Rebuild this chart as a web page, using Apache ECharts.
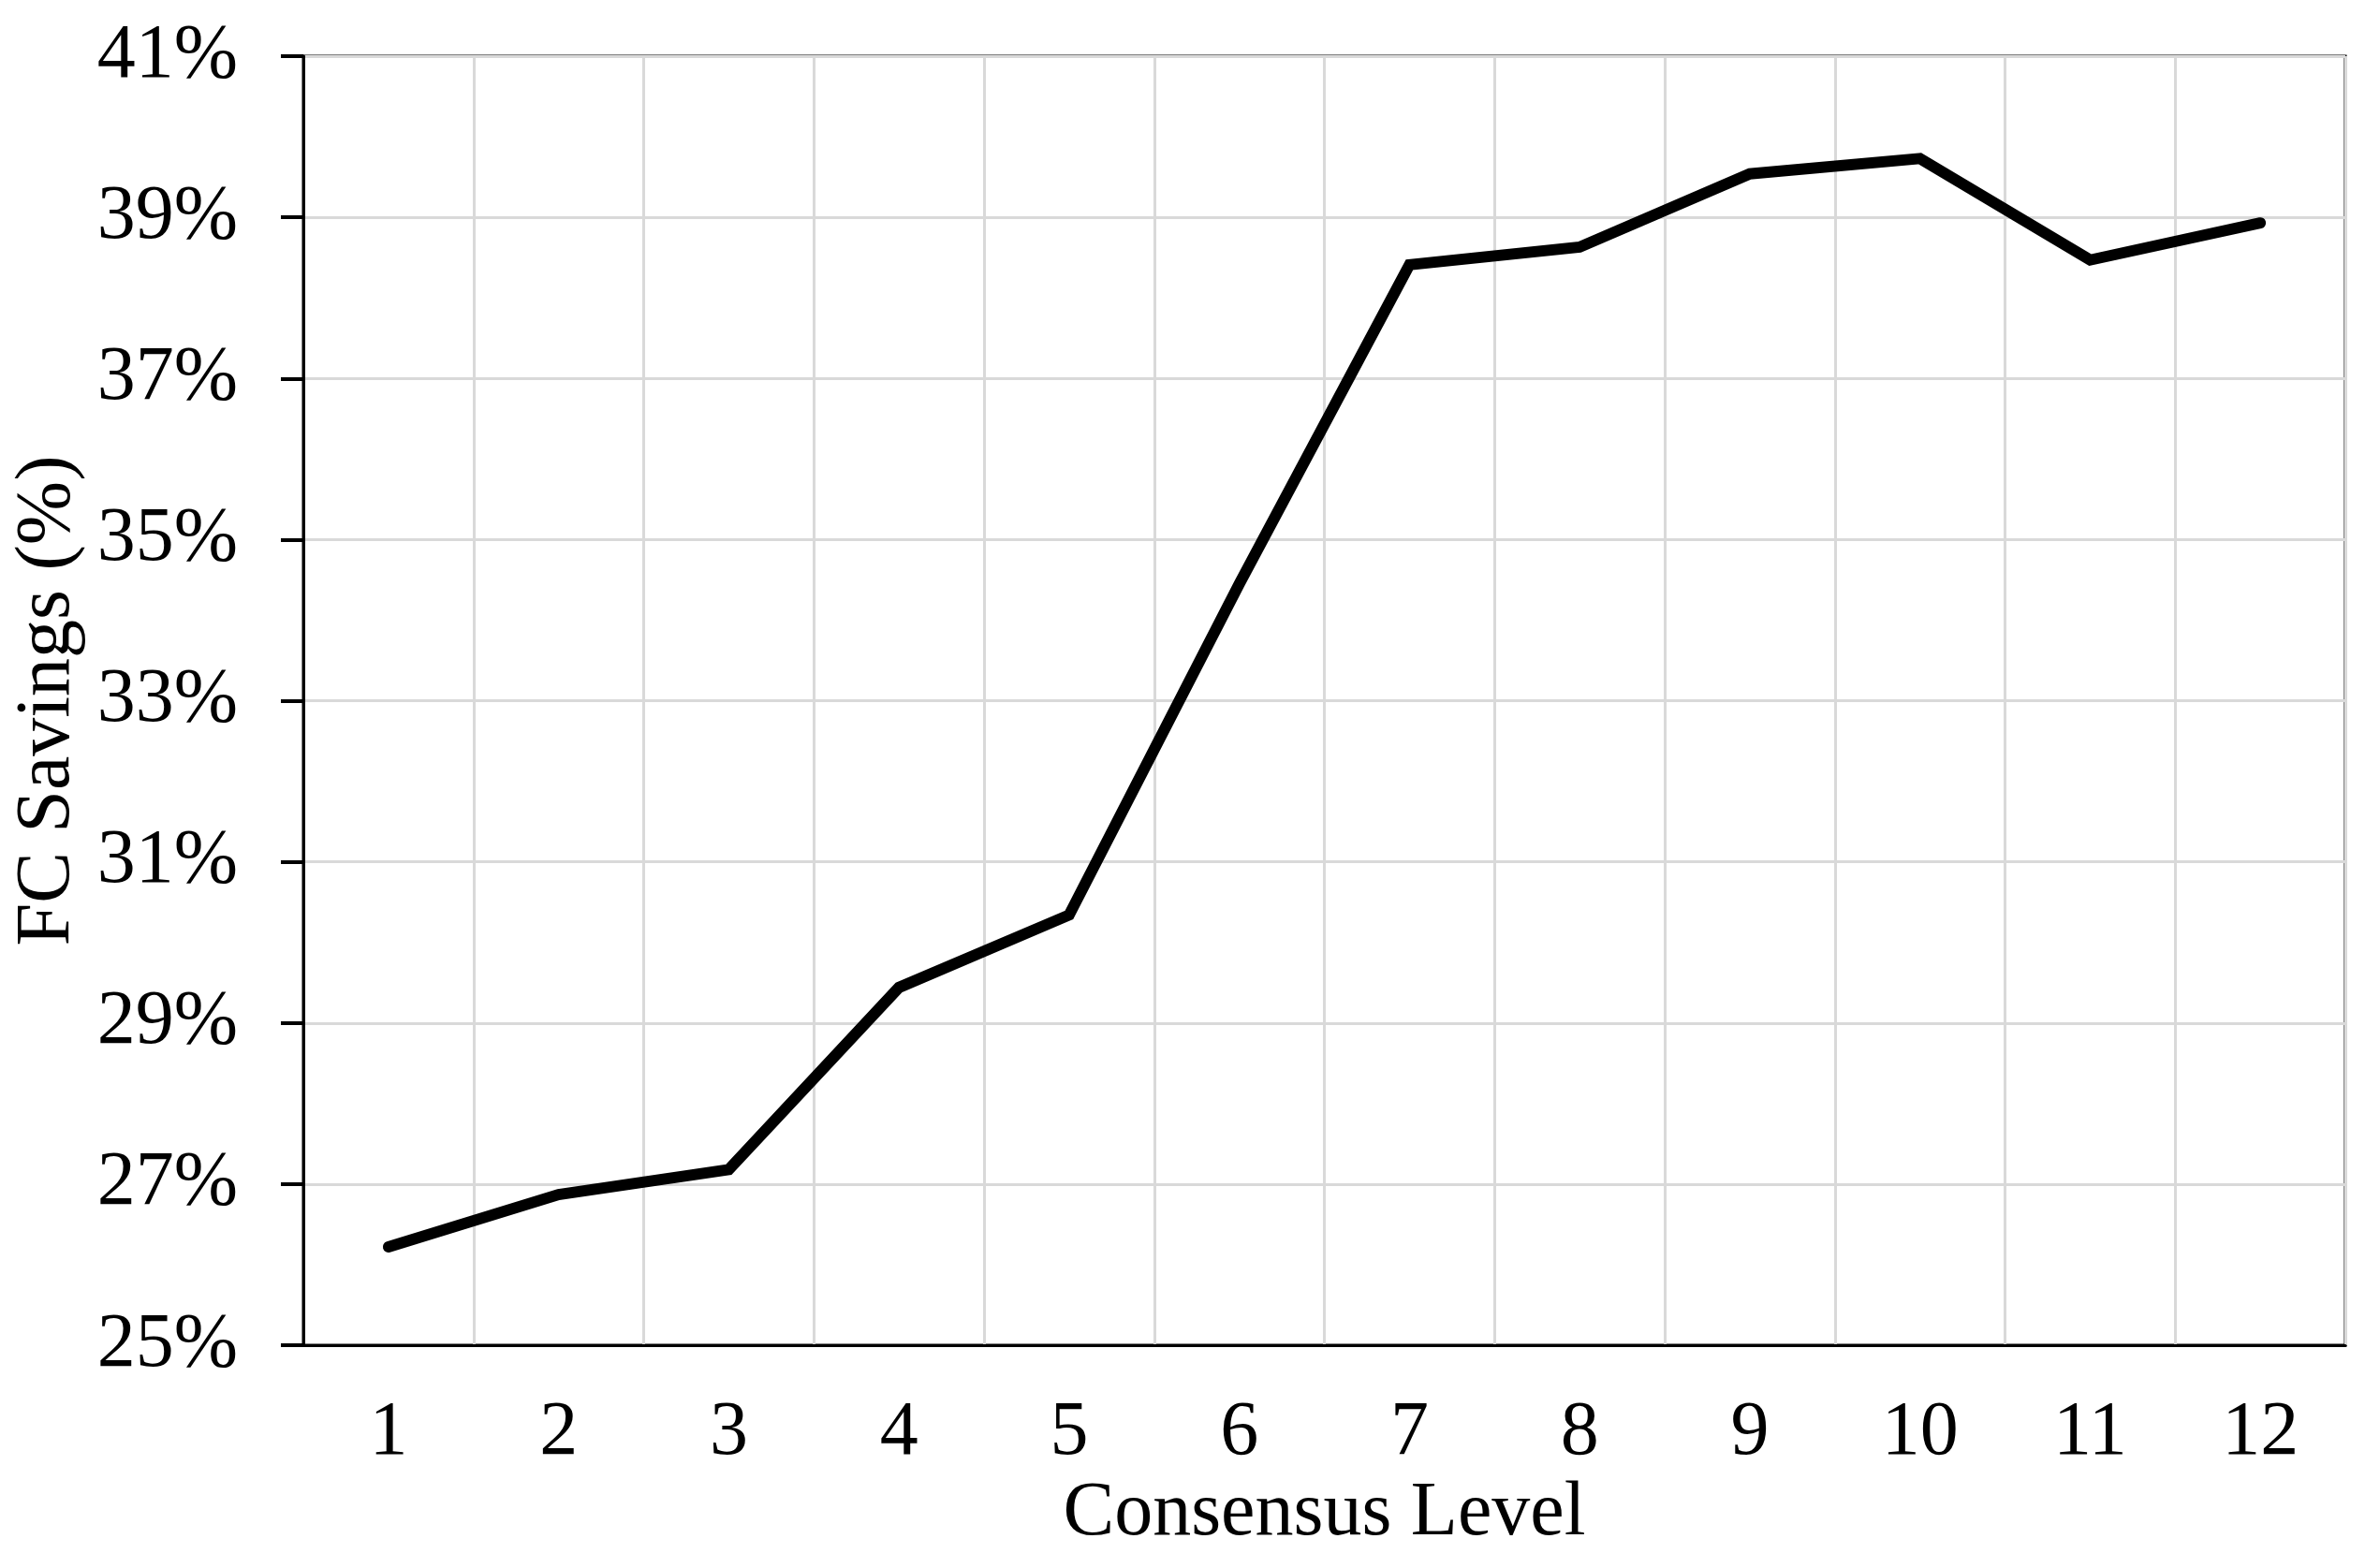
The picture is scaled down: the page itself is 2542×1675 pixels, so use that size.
<!DOCTYPE html>
<html lang="en">

<head>
    <meta charset="UTF-8">
    <title>FC Savings vs Consensus Level</title>
    <script src="https://cdn.jsdelivr.net/npm/echarts@6/dist/echarts.min.js"></script>
    <style>
        html, body { margin: 0; padding: 0; background: #fff; }
        #chart { width: 2542px; height: 1675px; }
    </style>
</head>

<body>
    <div id="chart"></div>
    <script type="text/javascript">
    // data
    var levels = ['1', '2', '3', '4', '5', '6', '7', '8', '9', '10', '11', '12'];
    var savings = [26.22, 26.87, 27.18, 29.44, 30.34, 34.45, 38.41, 38.63, 39.54, 39.73, 38.47, 38.93];
    var yMin = 25, yMax = 41, yStep = 2;

    var font = "'Liberation Serif', 'Times New Roman', serif";

    var myChart = echarts.init(document.getElementById('chart'));
    var option = {
        backgroundColor: '#fff',
        animation: false,
        grid: {
            left: 324,
            right: 37,
            top: 60,
            bottom: 238,
            show: true,
            borderColor: '#000',
            borderWidth: 3,
            backgroundColor: 'transparent'
        },
        xAxis: {
            type: 'category',
            data: levels,
            boundaryGap: true,
            name: 'Consensus Level',
            nameLocation: 'middle',
            nameGap: 137,
            nameTextStyle: { fontFamily: font, fontSize: 82, color: '#000' },
            axisLine: { lineStyle: { color: '#000', width: 3 } },
            axisTick: { alignWithLabel: true, length: 18, lineStyle: { color: '#000', width: 3 } },
            axisLabel: { fontFamily: font, fontSize: 82, color: '#000', margin: 53 },
            splitLine: { show: true, lineStyle: { color: '#d9d9d9', width: 3 } }
        },
        yAxis: {
            type: 'value',
            min: yMin,
            max: yMax,
            interval: yStep,
            name: 'FC Savings (%)',
            nameLocation: 'middle',
            nameRotate: 90,
            nameGap: 212,
            nameTextStyle: { fontFamily: font, fontSize: 82, color: '#000' },
            axisLine: { show: true, lineStyle: { color: '#000', width: 3 } },
            axisTick: { show: true, length: 24, lineStyle: { color: '#000', width: 4 } },
            axisLabel: {
                fontFamily: font, fontSize: 82, color: '#000', margin: 70,
                formatter: function (v) { return v + '%'; }
            },
            splitLine: { show: true, lineStyle: { color: '#d9d9d9', width: 3 } }
        },
        series: [
            {
                name: 'FC Savings',
                type: 'line',
                data: savings,
                symbol: 'none',
                lineStyle: { color: '#000', width: 12, cap: 'round', join: 'miter' },
                z: 5
            }
        ]
    };
    myChart.setOption(option);
    </script>
</body>

</html>
